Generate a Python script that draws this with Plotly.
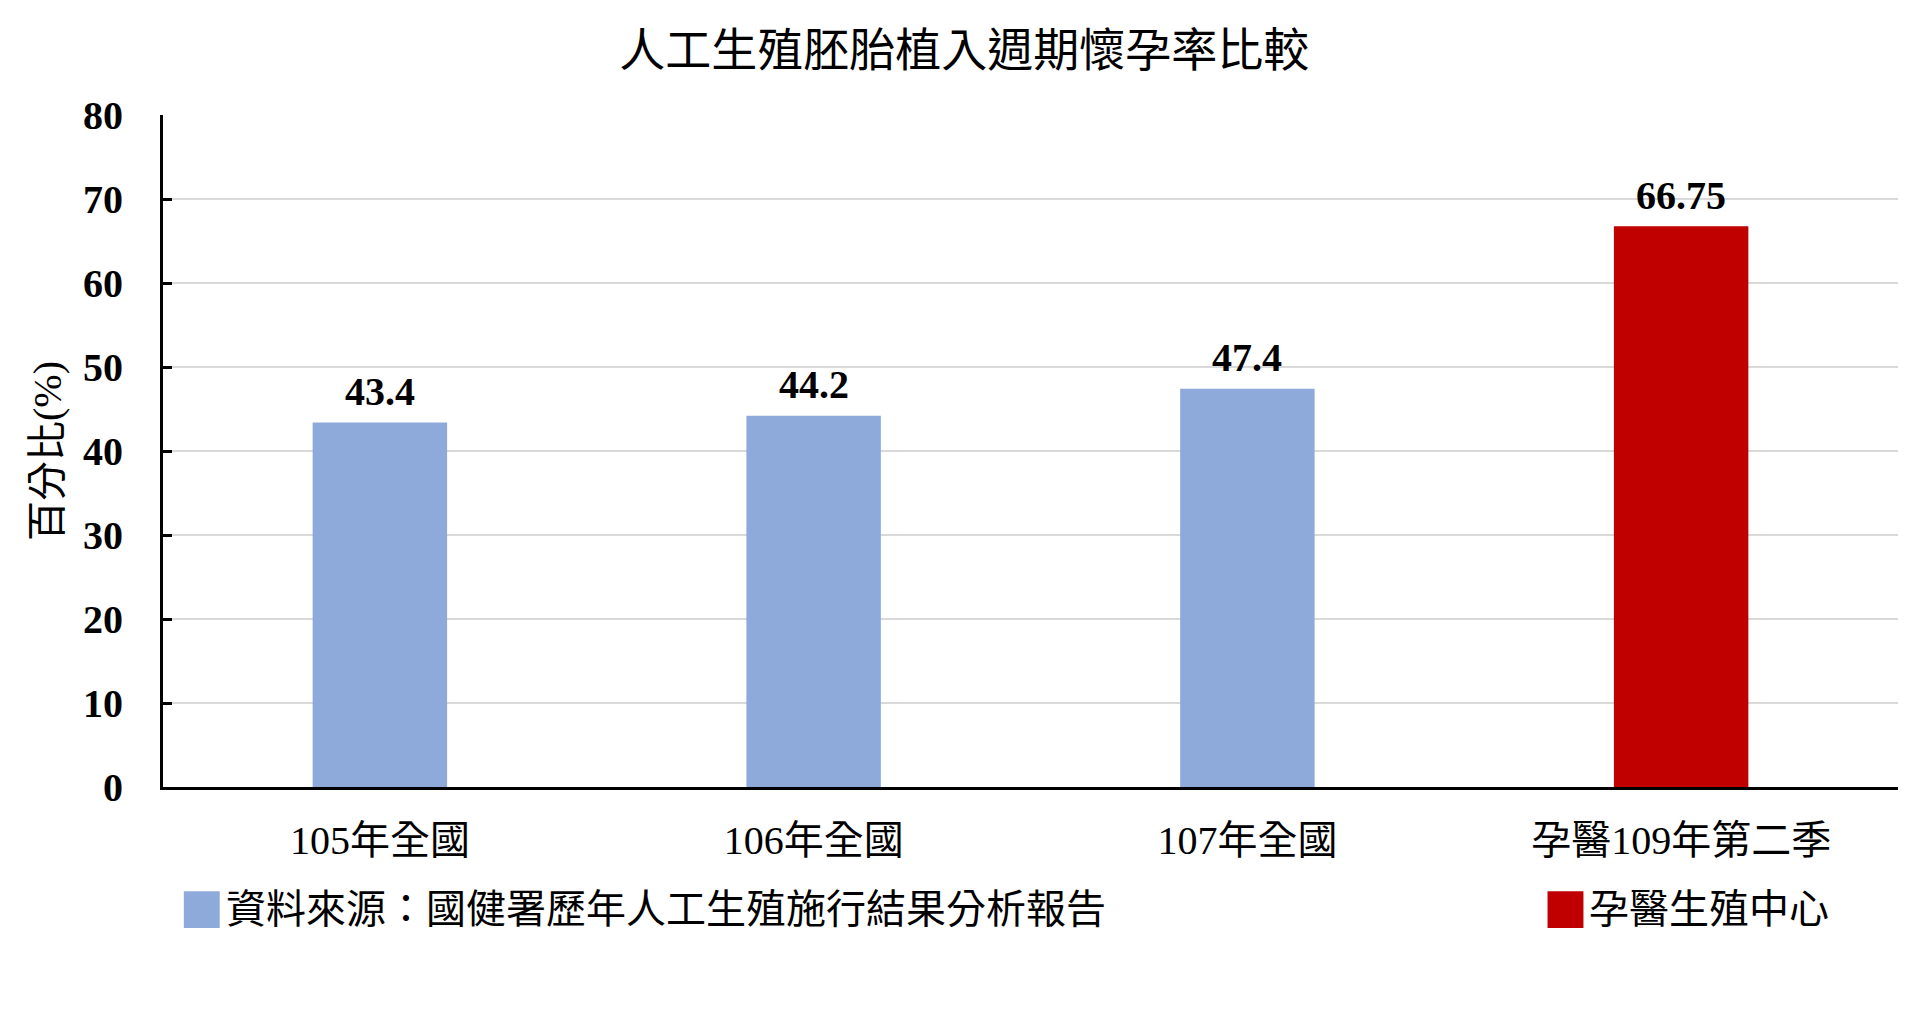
import plotly.graph_objects as go

# Data
title_text = "人工生殖胚胎植入週期懷孕率比較"
categories = ["105年全國", "106年全國", "107年全國", "孕醫109年第二季"]
national_categories = ["105年全國", "106年全國", "107年全國"]
national_values = [43.4, 44.2, 47.4]
center_categories = ["孕醫109年第二季"]
center_values = [66.75]
national_name = "資料來源：國健署歷年人工生殖施行結果分析報告"
center_name = "孕醫生殖中心"
y_ticks = [0, 10, 20, 30, 40, 50, 60, 70, 80]

BLUE = "#8eaadb"
RED = "#c00000"
FONT = "Liberation Serif, Noto Sans CJK TC, serif"

fig = go.Figure()

for cats, vals, name, color in [
    (national_categories, national_values, national_name, BLUE),
    (center_categories, center_values, center_name, RED),
]:
    fig.add_trace(go.Bar(
        x=cats,
        y=vals,
        name=name,
        marker=dict(color=color, line=dict(width=0)),
        width=0.31,
        showlegend=False,
    ))
    # value labels sit a bit higher above the bars than plotly's own text
    for c, v in zip(cats, vals):
        fig.add_annotation(
            x=c, y=v, text=str(v),
            showarrow=False, yanchor="middle", yshift=31,
            font=dict(family=FONT, size=40, color="black", weight="bold"),
        )

# legend drawn by hand so the swatches match the big squares of the original
legend_items = [(national_name, BLUE, 0.012), (center_name, RED, 0.798)]
for label, color, x0 in legend_items:
    fig.add_shape(
        type="rect", xref="paper", yref="paper",
        x0=x0, x1=x0 + 0.0207, y0=-0.21, y1=-0.155,
        fillcolor=color, line=dict(width=0),
    )
    fig.add_annotation(
        text=label, xref="paper", yref="paper",
        x=x0 + 0.023, y=-0.1825, xanchor="left", yanchor="middle",
        showarrow=False,
        font=dict(family=FONT, size=40, color="black"),
    )

fig.update_layout(
    width=1920,
    height=1021,
    paper_bgcolor="white",
    plot_bgcolor="white",
    barmode="overlay",
    margin=dict(l=155, r=30, t=107, b=242),
    title=dict(
        text=title_text,
        x=0.498, xanchor="center",
        y=0.959, yanchor="middle",
        font=dict(family=FONT, size=46, color="black"),
    ),
    font=dict(family=FONT, color="black"),
)

fig.update_xaxes(
    categoryorder="array",
    categoryarray=categories,
    showline=True,
    linecolor="black",
    linewidth=3,
    ticks="",
    tickfont=dict(family=FONT, size=40, color="black"),
    ticklabelstandoff=16,
)

fig.update_yaxes(
    range=[0, 80],
    tickvals=y_ticks,
    showline=True,
    linecolor="black",
    linewidth=3,
    ticks="inside",
    ticklen=9,
    tickwidth=3,
    tickcolor="black",
    showgrid=True,
    gridcolor="#d9d9d9",
    gridwidth=2,
    zeroline=False,
    tickfont=dict(family=FONT, size=40, color="black", weight="bold"),
    ticklabelstandoff=29,
    title=dict(
        text="百分比(%)",
        font=dict(family=FONT, size=40, color="black"),
        standoff=10,
    ),
)

fig.write_html("out.html")
